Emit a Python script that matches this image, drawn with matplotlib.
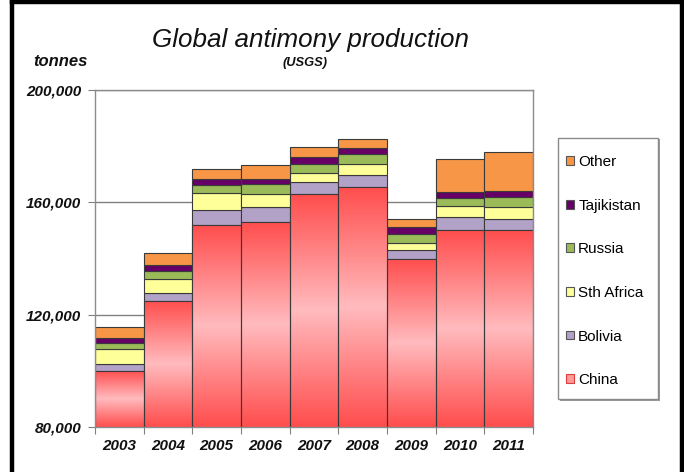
import numpy as np
import matplotlib
matplotlib.use("Agg")
import matplotlib.pyplot as plt
from matplotlib.colors import LinearSegmentedColormap
from matplotlib.lines import Line2D
from matplotlib.patches import Patch, Rectangle

plt.rcParams["font.family"] = ["Liberation Sans", "DejaVu Sans"]

# Production by country, tonnes (USGS)
years = ["2003", "2004", "2005", "2006", "2007", "2008", "2009", "2010", "2011"]
china = [100000, 125000, 152000, 153000, 163000, 165500, 140000, 150000, 150000]
bolivia = [2500, 2700, 5200, 5500, 4100, 4100, 3000, 4900, 4100]
sth_africa = [5300, 5000, 6300, 4300, 3200, 3900, 2600, 3700, 4400]
russia = [2100, 2700, 2600, 3600, 3500, 3600, 3300, 3000, 3400]
tajikistan = [1800, 2400, 2100, 1900, 2200, 2400, 2200, 2200, 2200]
other = [3900, 4000, 3500, 5100, 3600, 3200, 2800, 11700, 13800]

series = [
    ("China", china, "#FF6B6B"),
    ("Bolivia", bolivia, "#B3A2C7"),
    ("Sth Africa", sth_africa, "#FFFF99"),
    ("Russia", russia, "#9BBB59"),
    ("Tajikistan", tajikistan, "#660066"),
    ("Other", other, "#F79646"),
]

y_ticks = [80000, 120000, 160000, 200000]
y_min, y_max = 80000, 200000

W, H = 684, 472
fig = plt.figure(figsize=(W / 100, H / 100), dpi=100)
ax = fig.add_axes([95 / W, 1 - 427 / H, (533 - 95) / W, (427 - 90) / H])

x = np.arange(len(years))
edge = "#3a3a3a"
bottom = np.zeros(len(years))
containers = {}
for name, vals, col in series:
    vals = np.array(vals, dtype=float)
    bc = ax.bar(x, vals, width=1.0, bottom=bottom, color=col,
                edgecolor=edge, linewidth=0.8, zorder=2)
    containers[name] = bc
    bottom += vals

# China bars get a vertical red-pink-red gradient
grad_cmap = LinearSegmentedColormap.from_list(
    "china", [(0.0, "#FF4D4D"), (0.5, "#FFBBBE"), (1.0, "#FF4D4D")])
grad = np.linspace(0, 1, 256).reshape(-1, 1)
for i, rect in enumerate(containers["China"]):
    im = ax.imshow(grad, extent=[x[i] - 0.5, x[i] + 0.5, y_min, china[i]],
                   origin="lower", aspect="auto", cmap=grad_cmap,
                   interpolation="bicubic", zorder=2.05)
    im.set_clip_path(rect)
ax.bar(x, china, width=1.0, fill=False, edgecolor=edge, linewidth=0.8, zorder=2.1)

ax.set_xlim(-0.5, len(years) - 0.5)
ax.set_ylim(y_min, y_max)
ax.set_aspect("auto")

# Gridlines and frame
ax.set_yticks(y_ticks)
ax.set_yticklabels([f"{v:,}" for v in y_ticks])
ax.yaxis.grid(True, color="#808080", linewidth=1.0, zorder=0)
ax.set_axisbelow(True)
for s in ax.spines.values():
    s.set_color("#8c8c8c")
    s.set_linewidth(1.0)

ax.set_xticks(np.arange(len(years) + 1) - 0.5)
ax.set_xticklabels([])
ax.set_xticks(x, minor=True)
ax.set_xticklabels(years, minor=True)
ax.tick_params(axis="x", which="major", length=5, color="#808080", direction="out")
ax.tick_params(axis="x", which="minor", length=0, pad=8.5)
ax.tick_params(axis="y", length=5, color="#808080", direction="out", pad=5)
for lab in ax.get_yticklabels() + ax.get_xticklabels(minor=True):
    lab.set_fontsize(11)
    lab.set_fontweight("bold")
    lab.set_fontstyle("italic")
    lab.set_color("#111111")

# Titles
fig.text(311 / W, 1 - 47 / H, "Global antimony production", ha="center",
         va="baseline", fontsize=18.7, fontstyle="italic", color="#111111")
fig.text(305 / W, 1 - 66 / H, "(USGS)", ha="center", va="baseline",
         fontsize=9.3, fontstyle="italic", fontweight="bold", color="#111111")
fig.text(33 / W, 1 - 66.5 / H, "tonnes", ha="left", va="baseline",
         fontsize=12, fontstyle="italic", fontweight="bold", color="#111111")

# Legend box
fig.add_artist(Rectangle((560 / W, 1 - 401 / H), 100 / W, 262 / H,
                         transform=fig.transFigure, facecolor="#9a9a9a",
                         edgecolor="none", zorder=3))
fig.add_artist(Rectangle((558 / W, 1 - 399 / H), 100 / W, 261 / H,
                         transform=fig.transFigure, facecolor="white",
                         edgecolor="#8a8a8a", linewidth=1.0, zorder=3.1))

# Legend entries, top entry first
handles, labels = [], []
for name, vals, col in reversed(series):
    if name == "China":
        handles.append(Patch(facecolor="#FF9A9A", edgecolor="#E03C3C", linewidth=0.8))
    else:
        handles.append(Patch(facecolor=col, edgecolor="#555555", linewidth=0.8))
    labels.append(name)
leg = fig.legend(handles, labels, loc="upper left",
                 bbox_to_anchor=(566 / W, 1 - 155 / H), borderaxespad=0,
                 fontsize=11, frameon=False,
                 handlelength=0.5, handleheight=0.5, handletextpad=0.3,
                 labelspacing=1.94, borderpad=0)
leg.set_zorder(4)

# Outer border
for xs, ys in [((12 / W, 12 / W), (0, 1 - 2 / H)),
               ((12 / W, 682 / W), (1 - 2 / H, 1 - 2 / H)),
               ((682 / W, 682 / W), (1 - 2 / H, 0))]:
    fig.add_artist(Line2D(xs, ys, color="black", linewidth=3.2,
                          transform=fig.transFigure, solid_capstyle="projecting"))

fig.savefig("out.png", dpi=100)
